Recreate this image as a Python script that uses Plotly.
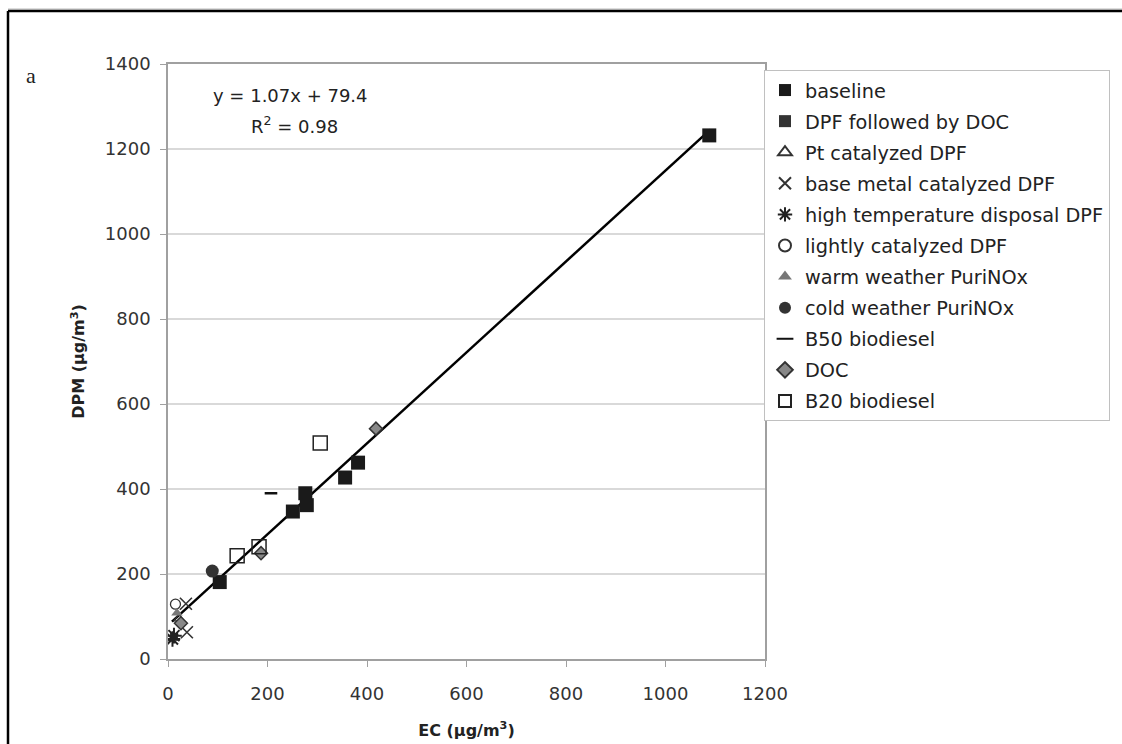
import plotly.graph_objects as go

# ---- data ----
baseline_x = [1088, 382, 356, 276, 279, 251, 104]
baseline_y = [1232, 462, 427, 390, 362, 347, 181]

dpf_doc_x = [12]
dpf_doc_y = [52]

pt_dpf_x = [22]
pt_dpf_y = [95]

base_metal_x = [38, 36]
base_metal_y = [63, 130]

high_temp_x = [9, 12]
high_temp_y = [47, 55]

lightly_x = [15]
lightly_y = [129]

warm_x = [18]
warm_y = [108]

cold_x = [89]
cold_y = [207]

b50_x = [207]
b50_y = [390]

doc_x = [418, 187, 26]
doc_y = [542, 249, 84]

b20_x = [306, 139, 183]
b20_y = [508, 243, 264]

fit_slope = 1.07
fit_intercept = 79.4
fit_x = [8, 1090]
fit_y = [fit_slope * v + fit_intercept for v in fit_x]

x_ticks = [0, 200, 400, 600, 800, 1000, 1200]
y_ticks = [0, 200, 400, 600, 800, 1000, 1200, 1400]

FONT = "DejaVu Sans"

fig = go.Figure()

fig.add_trace(go.Scatter(x=fit_x, y=fit_y, mode="lines",
                         line=dict(color="black", width=2.5),
                         showlegend=False, hoverinfo="skip"))

series = [
    ("baseline", baseline_x, baseline_y, dict(symbol="square", size=14, color="#1a1a1a")),
    ("DPF followed by DOC", dpf_doc_x, dpf_doc_y, dict(symbol="square", size=8, color="#333333")),
    ("Pt catalyzed DPF", pt_dpf_x, pt_dpf_y, dict(symbol="triangle-up-open", size=9, color="#333333", line=dict(width=1.3))),
    ("base metal catalyzed DPF", base_metal_x, base_metal_y, dict(symbol="x-thin-open", size=12, color="#333333", line=dict(width=1.6, color="#333333"))),
    ("high temperature disposal DPF", high_temp_x, high_temp_y, dict(symbol="asterisk-open", size=13, color="#222222", line=dict(width=2, color="#222222"))),
    ("lightly catalyzed DPF", lightly_x, lightly_y, dict(symbol="circle-open", size=10, color="#333333", line=dict(width=1.3))),
    ("warm weather PuriNOx", warm_x, warm_y, dict(symbol="triangle-up", size=10, color="#777777")),
    ("cold weather PuriNOx", cold_x, cold_y, dict(symbol="circle", size=13, color="#333333")),
    ("B50 biodiesel", b50_x, b50_y, dict(symbol="line-ew-open", size=9, color="#111111", line=dict(width=2.5, color="#111111"))),
    ("DOC", doc_x, doc_y, dict(symbol="diamond", size=10, color="#888888", line=dict(width=1.5, color="#333333"))),
    ("B20 biodiesel", b20_x, b20_y, dict(symbol="square-open", size=14, color="#222222", line=dict(width=1.5))),
]

for i, (name, xs, ys, mk) in enumerate(series):
    fig.add_trace(go.Scatter(x=xs, y=ys, mode="markers", name=name, marker=mk,
                             legendgroup=f"g{i}"))

# plot area geometry in pixels
L, R, T, B = 168, 765, 64, 659
W, H = 1122, 744

def px(xp):
    return (xp - L) / (R - L)

def py(yp):
    return (B - yp) / (B - T)

fig.update_layout(
    width=W, height=H,
    margin=dict(l=L, r=W - R, t=T, b=H - B, pad=0, autoexpand=False),
    paper_bgcolor="white", plot_bgcolor="white",
    font=dict(family=FONT, size=18, color="#333333"),
    legend=dict(xref="container", yref="container", x=764 / W, y=1 - 70 / H,
                xanchor="left", yanchor="top",
                bordercolor="#c0c0c0", borderwidth=1, bgcolor="white",
                font=dict(family=FONT, size=19.3, color="#222222"),
                tracegroupgap=3, itemsizing="constant", itemwidth=30),
    xaxis=dict(range=[0, 1200], tickvals=x_ticks, showgrid=False, zeroline=False,
               showline=True, linecolor="#a0a0a0", linewidth=1.5, mirror=True,
               ticks="outside", ticklen=6, tickcolor="#a0a0a0",
               tickfont=dict(family=FONT, size=18, color="#333333"),
               ticklabelstandoff=12,
               title=dict(text="<b>EC (µg/m<sup>3</sup>)</b>", standoff=21,
                          font=dict(family=FONT, size=16, color="#222222"))),
    yaxis=dict(range=[0, 1400], tickvals=y_ticks, showgrid=True, gridcolor="#d9d9d9",
               gridwidth=1.5, zeroline=False,
               showline=True, linecolor="#a0a0a0", linewidth=1.5, mirror=True,
               ticks="outside", ticklen=6, tickcolor="#a0a0a0",
               tickfont=dict(family=FONT, size=18, color="#333333"),
               ticklabelstandoff=6,
               title=dict(text="<b>DPM (µg/m<sup>3</sup>)</b>", standoff=16,
                          font=dict(family=FONT, size=16, color="#222222"))),
    showlegend=True,
)

fig.add_annotation(text="y = 1.07x + 79.4", x=px(290), y=py(95), xref="paper", yref="paper",
                   xanchor="center", yanchor="middle",
                   showarrow=False, font=dict(family=FONT, size=18, color="#222222"))
fig.add_annotation(text="R<sup>2</sup> = 0.98", x=px(294), y=py(125), xref="paper", yref="paper",
                   xanchor="center", yanchor="middle",
                   showarrow=False, font=dict(family=FONT, size=18, color="#222222"))
fig.add_annotation(text="a", x=px(31), y=py(75), xref="paper", yref="paper",
                   xanchor="center", yanchor="middle",
                   showarrow=False, font=dict(family="Liberation Serif", size=22, color="#222222"))

# outer figure frame (top and left edges visible)
fig.add_shape(type="line", xref="paper", yref="paper", x0=px(8), x1=px(1125), y0=py(9), y1=py(9),
              line=dict(color="#bbbbbb", width=1))
fig.add_shape(type="line", xref="paper", yref="paper", x0=px(8), x1=px(1125), y0=py(11), y1=py(11),
              line=dict(color="black", width=2.5))
fig.add_shape(type="line", xref="paper", yref="paper", x0=px(8), x1=px(8), y0=py(11), y1=py(750),
              line=dict(color="black", width=2.5))

fig.write_html("out.html")
